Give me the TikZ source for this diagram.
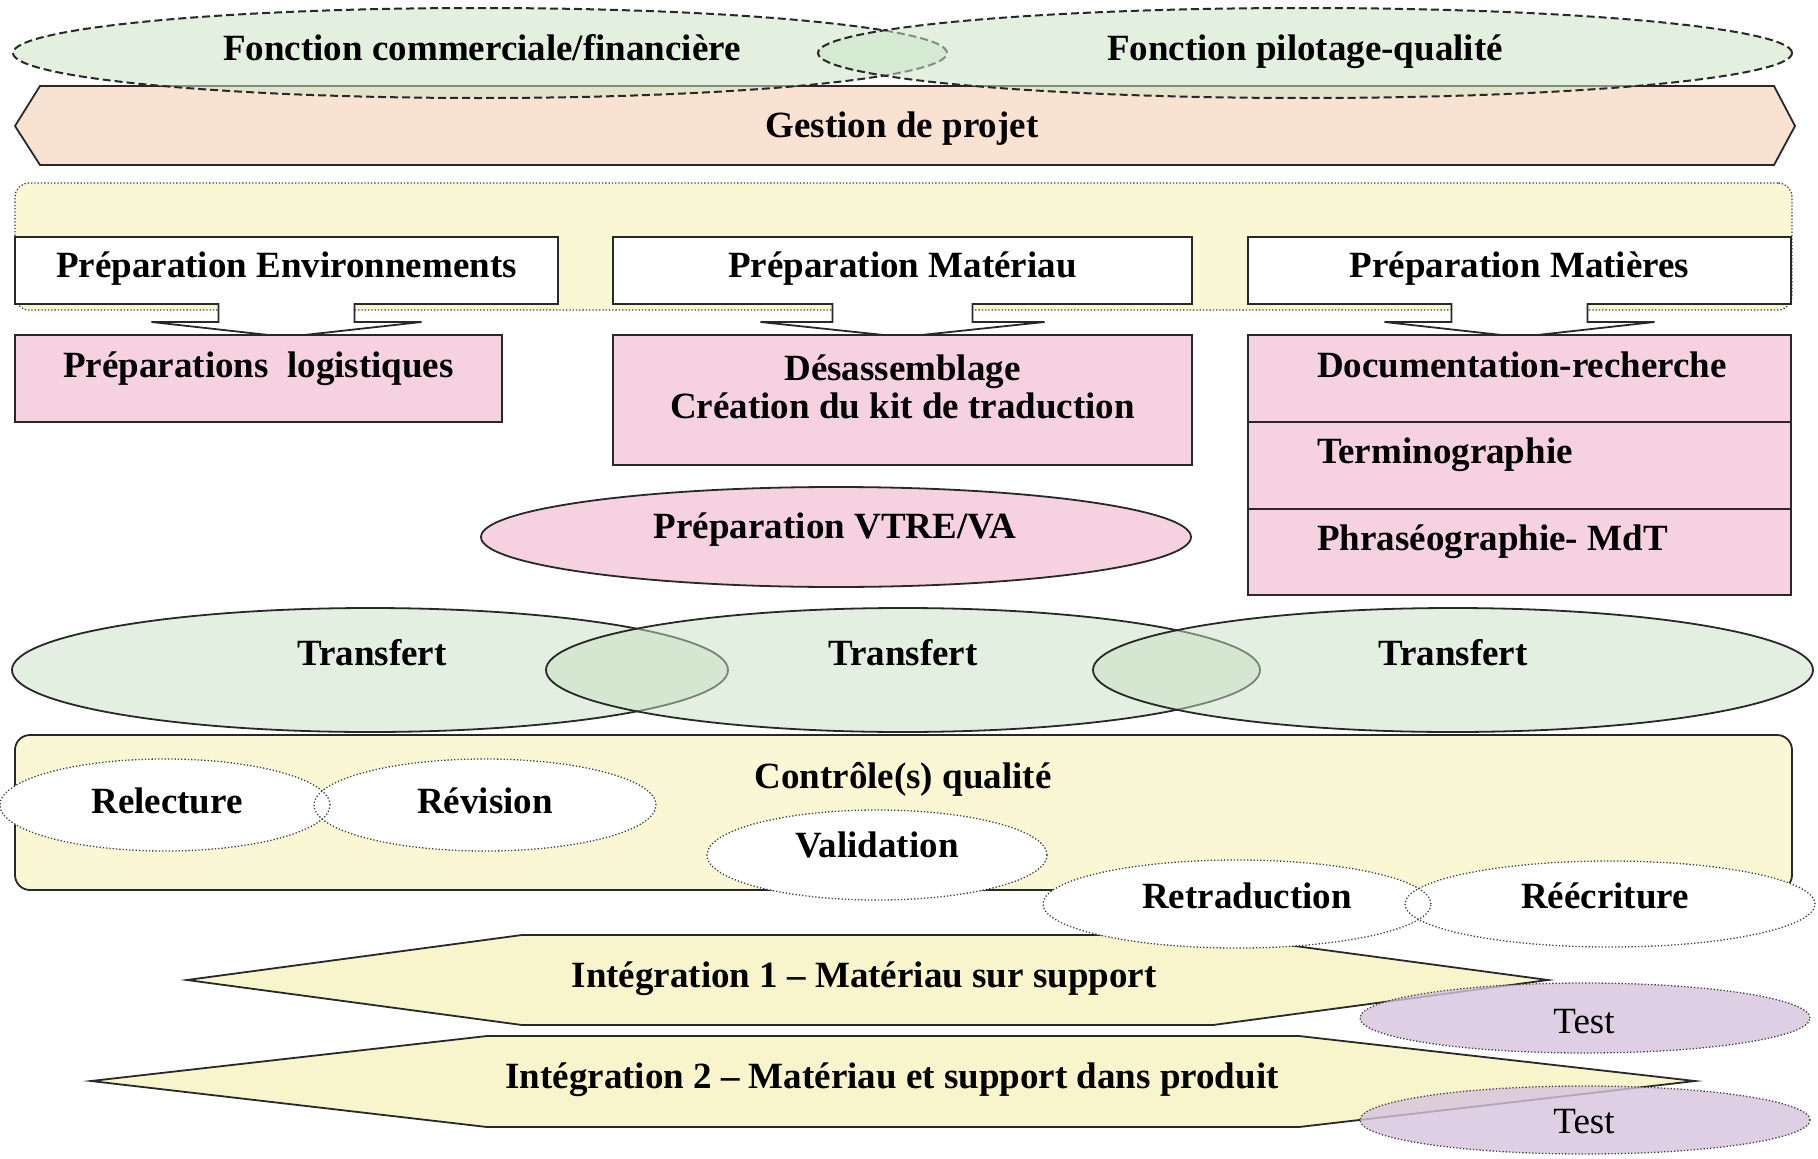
\documentclass[tikz,border=0pt]{standalone}
\usepackage{fontspec}
\setmainfont{Liberation Serif}
\usetikzlibrary{shapes.geometric}
\definecolor{peach}{RGB}{250,226,210}
\definecolor{lyellow}{RGB}{250,247,213}
\definecolor{ipink}{RGB}{246,210,224}
\definecolor{tgreen}{RGB}{200,224,195}
\definecolor{fgreen}{RGB}{205,228,200}
\definecolor{tpurple}{RGB}{215,195,222}
\definecolor{iyellow}{RGB}{248,244,204}
\definecolor{edge}{RGB}{40,40,40}
\tikzset{
  lbl/.style={font=\fontsize{37}{42}\selectfont\bfseries, anchor=base, inner sep=0pt},
  lblr/.style={font=\fontsize{37}{42}\selectfont, anchor=base, inner sep=0pt},
  solidline/.style={draw=edge, line width=1.8pt},
  fineline/.style={draw=black!75, line width=1.3pt, dash pattern=on 1.3pt off 2pt},
  topell/.style={ellipse, draw=edge, line width=2pt, dash pattern=on 8pt off 4pt, fill=fgreen, fill opacity=0.55, inner sep=0pt},
  trell/.style={ellipse, solidline, fill=tgreen, fill opacity=0.5, inner sep=0pt},
  whell/.style={ellipse, fill=white, inner sep=0pt},
  whbord/.style={ellipse, fineline, inner sep=0pt},
  testell/.style={ellipse, fineline, fill=tpurple, fill opacity=0.8, inner sep=0pt},
  pinkbox/.style={rectangle, solidline, fill=ipink, inner sep=0pt},
}
\begin{document}
\begin{tikzpicture}[x=1pt,y=-1pt]
\useasboundingbox (0,0) rectangle (1818,1159);
\fill[white] (0,0) rectangle (1818,1159);

% Gestion de projet band
\draw[solidline, fill=peach] (15,126) -- (40,86) -- (1774,86) -- (1795,126) -- (1774,165) -- (40,165) -- cycle;
\node[lbl] (gestion) at (902,137) {Gestion de projet};

% top functions
\node[topell, minimum width=934pt, minimum height=90pt] (fcomm) at (480,53) {};
\node[topell, minimum width=974pt, minimum height=90pt] (fpilot) at (1305,53) {};
\node[lbl] (tcomm) at (482,60) {Fonction commerciale/financière};
\node[lbl] (tpilot) at (1305,60) {Fonction pilotage-qualité};

% preparation band
\node[rectangle, rounded corners=14pt, fineline, fill=lyellow, minimum width=1777pt, minimum height=127pt] (prepband) at (903.5,246.5) {};

% callout boxes
\draw[solidline, fill=white] (15,237) -- (558,237) -- (558,304) -- (354.5,304) -- (354.5,322) -- (421.5,322) -- (286.5,337) -- (151.5,322) -- (218.5,322) -- (218.5,304) -- (15,304) -- cycle;
\draw[solidline, fill=white] (613,237) -- (1192,237) -- (1192,304) -- (972.5,304) -- (972.5,322) -- (1044.5,322) -- (902.5,337) -- (760.5,322) -- (832.5,322) -- (832.5,304) -- (613,304) -- cycle;
\draw[solidline, fill=white] (1248,237) -- (1791,237) -- (1791,304) -- (1587.5,304) -- (1587.5,322) -- (1654.5,322) -- (1519.5,337) -- (1384.5,322) -- (1451.5,322) -- (1451.5,304) -- (1248,304) -- cycle;
\node[lbl] (penv) at (286.5,277) {Préparation Environnements};
\node[lbl] (pmat) at (902.5,277) {Préparation Matériau};
\node[lbl] (pmatieres) at (1519.5,277) {Préparation Matières};

% pink boxes
\node[pinkbox, minimum width=487pt, minimum height=87pt] (logbox) at (258.5,378.5) {};
\node[lbl] (tlog) at (258.5,377) {Préparations\ \ logistiques};
\node[pinkbox, minimum width=579pt, minimum height=130pt] (desbox) at (902.5,400) {};
\node[lbl] (tdes1) at (902.5,380) {Désassemblage};
\node[lbl] (tdes2) at (902.5,418) {Création du kit de traduction};
\node[pinkbox, minimum width=543pt, minimum height=87pt] (docbox) at (1519.5,378.5) {};
\node[pinkbox, minimum width=543pt, minimum height=87pt] (termbox) at (1519.5,465.5) {};
\node[pinkbox, minimum width=543pt, minimum height=86pt] (phrbox) at (1519.5,552) {};
\node[lbl, anchor=base west] (tdoc) at (1317,377) {Documentation-recherche};
\node[lbl, anchor=base west] (tterm) at (1317,463) {Terminographie};
\node[lbl, anchor=base west] (tphr) at (1317,550) {Phraséographie- MdT};

% VTRE/VA
\node[ellipse, solidline, fill=ipink, inner sep=0pt, minimum width=710pt, minimum height=100pt] (vtre) at (836,537) {};
\node[lbl] (tvtre) at (835,538) {Préparation VTRE/VA};

% Transfert
\node[trell, minimum width=716pt, minimum height=124pt] (tr1) at (370,670) {};
\node[trell, minimum width=714pt, minimum height=124pt] (tr2) at (903,670) {};
\node[trell, minimum width=720pt, minimum height=124pt] (tr3) at (1453,670) {};
\node[lbl] (ttr1) at (372,665) {Transfert};
\node[lbl] (ttr2) at (903,665) {Transfert};
\node[lbl] (ttr3) at (1453,665) {Transfert};

% Controle qualite
\node[rectangle, rounded corners=15pt, solidline, fill=lyellow, minimum width=1777pt, minimum height=155pt] (ctrl) at (903.5,812.5) {};
\node[lbl] (tctrl) at (903,788) {Contrôle(s) qualité};

\node[whell, minimum width=330pt, minimum height=92pt] (relf) at (165,805) {};
\node[whell, minimum width=342pt, minimum height=92pt] (revf) at (485,805) {};
\node[whbord, minimum width=330pt, minimum height=92pt] (rel) at (165,805) {};
\node[whbord, minimum width=342pt, minimum height=92pt] (rev) at (485,805) {};
\node[whell, minimum width=340pt, minimum height=90pt] (valf) at (877,855) {};
\node[whbord, minimum width=340pt, minimum height=90pt] (val) at (877,855) {};
\node[lbl] (trel) at (167,813) {Relecture};
\node[lbl] (trev) at (485,813) {Révision};
\node[lbl] (tval) at (877,857) {Validation};

% Integration shapes
\draw[solidline, fill=iyellow] (187,980) -- (522,935) -- (1213,935) -- (1548,980) -- (1213,1025) -- (522,1025) -- cycle;
\draw[solidline, fill=iyellow] (91,1081) -- (487,1036) -- (1299,1036) -- (1695,1081) -- (1299,1127) -- (487,1127) -- cycle;
\node[lbl] (tint1) at (864,987) {Intégration 1 – Matériau sur support};
\node[lbl] (tint2) at (892,1088) {Intégration 2 – Matériau et support dans produit};

% Retraduction / Reecriture
\node[whell, minimum width=388pt, minimum height=88pt] (retf) at (1237,904) {};
\node[whell, minimum width=410pt, minimum height=86pt] (reef) at (1610,904) {};
\node[whbord, minimum width=388pt, minimum height=88pt] (ret) at (1237,904) {};
\node[whbord, minimum width=410pt, minimum height=86pt] (ree) at (1610,904) {};
\node[lbl] (tret) at (1247,908) {Retraduction};
\node[lbl] (tree) at (1605,908) {Réécriture};

% Tests
\node[testell, minimum width=450pt, minimum height=70pt] (test1) at (1585,1018) {};
\node[testell, minimum width=450pt, minimum height=68pt] (test2) at (1585,1120) {};
\node[lblr] (ttest1) at (1584,1033) {Test};
\node[lblr] (ttest2) at (1584,1133) {Test};
\end{tikzpicture}
\end{document}
